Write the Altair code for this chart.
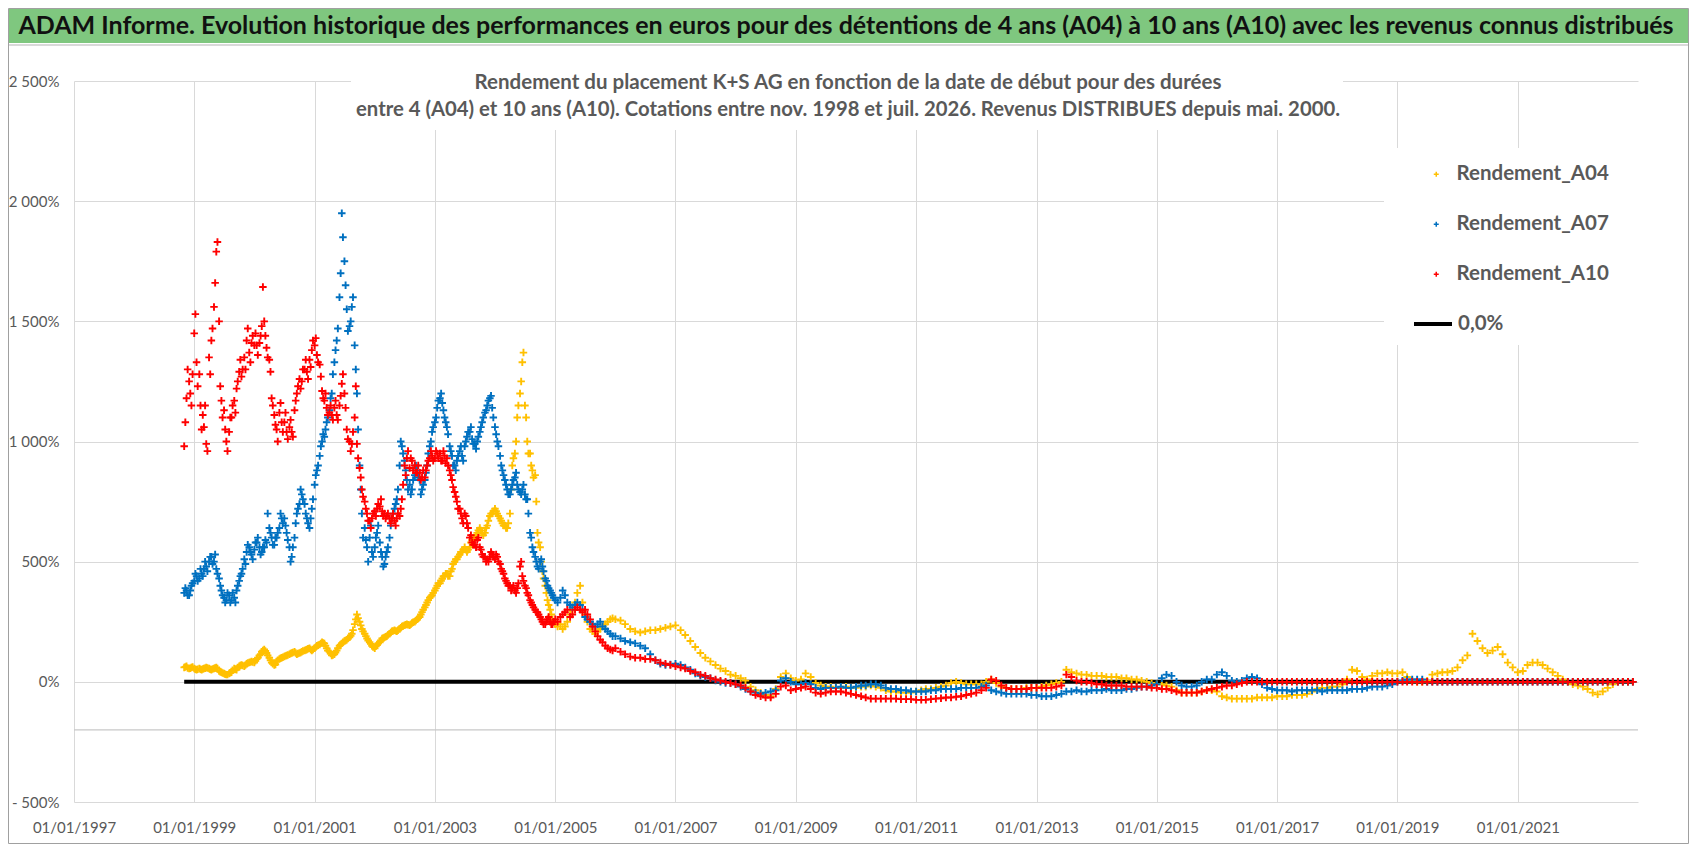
import altair as alt
import pandas as pd

# ---------------- data (values in %) ----------------
series_names = ["Rendement_A04", "Rendement_A07", "Rendement_A10"]
series_colors = ["#FFC000", "#0070C0", "#FF0000"]

# semi-monthly points (1st and 15th), Nov 1998 .. Dec 2005
semi_start, semi_end = "1998-11-01", "2005-12-31"
# monthly points, Jan 2006 .. Dec 2022
month_start, month_end = "2006-01-01", "2022-12-01"
# extra readings of the dense early cloud (8th and 22nd), Nov 1998 .. Dec 2004
mid_start, mid_end = "1998-11-01", "2004-12-01"

a04_semi = [
    60, 65, 55, 60,
    55, 50, 55, 50, 55, 60, 55, 50, 55, 60, 45, 40, 35, 30, 35, 40, 55, 50, 65, 70, 65, 75, 80, 85,
    80, 95, 110, 125, 135, 120, 100, 80, 70, 85, 95, 100, 105, 110, 115, 120, 125, 115, 120, 125, 130, 135, 140, 130,
    140, 150, 155, 165, 160, 140, 125, 110, 115, 130, 150, 160, 170, 175, 185, 200, 240, 280, 250, 220, 200, 180, 165, 150,
    140, 155, 165, 180, 185, 190, 200, 210, 215, 210, 220, 230, 235, 240, 235, 245, 250, 260, 270, 290, 310, 330, 350, 360,
    380, 400, 410, 430, 440, 450, 440, 470, 500, 510, 530, 540, 560, 540, 560, 590, 600, 620, 640, 620, 620, 650, 690, 700,
    720, 700, 680, 660, 650, 640, 700, 900, 950, 1100, 1200, 1330, 1150, 1000, 950, 880, 860, 620, 560, 460, 400, 340, 300, 260,
    240, 230, 240, 220, 230, 250, 280, 300, 330, 370, 400, 330, 280, 250, 220, 210, 200, 210, 220, 230, 240, 250, 260, 265,
]
a07_semi = [
    370, 380, 360, 400,
    420, 440, 430, 450, 470, 480, 500, 520, 500, 470, 430, 380, 350, 340, 360, 340, 350, 380, 420, 450, 510, 540, 560, 530,
    550, 580, 560, 540, 560, 580, 640, 600, 570, 600, 640, 680, 680, 620, 560, 520, 600, 700, 740, 780, 740, 680, 640, 720,
    820, 880, 940, 1000, 1020, 1080, 1130, 1200, 1330, 1420, 1600, 1950, 1750, 1550, 1480, 1560, 1400, 1200, 900, 700, 640, 560, 600, 540,
    560, 620, 580, 520, 490, 540, 600, 680, 720, 760, 900, 980, 920, 840, 820, 800, 860, 880, 840, 800, 840, 900, 980, 1040,
    1080, 1140, 1180, 1160, 1100, 1060, 980, 940, 900, 920, 960, 940, 980, 1020, 1040, 1010, 990, 1000, 1040, 1080, 1120, 1150, 1180, 1140,
    1060, 1000, 940, 880, 840, 800, 780, 820, 850, 820, 790, 800, 780, 760, 620, 560, 520, 480, 500, 480, 430, 400, 380, 360,
    340, 330, 350, 380, 360, 330, 320, 310, 320, 330, 320, 300, 270, 260, 250, 240, 230, 240, 250, 230, 220, 210, 200, 190,
]
a10_semi = [
    980, 1180, 1250, 1150,
    1450, 1330, 1280, 1050, 1060, 990, 1350, 1420, 1560, 1790, 1500, 1170, 1130, 1000, 1040, 1100, 1170, 1220, 1290, 1270, 1350, 1420, 1370, 1410,
    1400, 1400, 1410, 1480, 1500, 1390, 1340, 1180, 1110, 1050, 1120, 1080, 1080, 1040, 1060, 1040, 1130, 1200, 1260, 1250, 1300, 1290, 1340, 1380,
    1400, 1360, 1320, 1210, 1170, 1140, 1120, 1110, 1140, 1110, 1150, 1240, 1200, 1050, 1000, 990, 1100, 990, 890, 800, 750, 700, 670, 680,
    710, 720, 730, 710, 700, 690, 680, 680, 670, 680, 690, 760, 900, 930, 890, 920, 900, 870, 870, 850, 850, 900, 930, 940,
    930, 950, 950, 920, 940, 930, 880, 840, 790, 750, 720, 680, 700, 660, 600, 580, 570, 590, 560, 530, 520, 510, 520, 530,
    510, 520, 490, 460, 430, 410, 400, 390, 380, 390, 480, 440, 400, 370, 340, 320, 300, 290, 270, 250, 240, 260, 250, 240,
    260, 250, 270, 280, 290, 300, 270, 280, 300, 310, 300, 290, 300, 280, 260, 230, 210, 190, 175, 165, 150, 140, 135, 130,
]

a04_mid = [
    62, 58, 57, 62,
    52, 52, 52, 53, 57, 58, 52, 53, 58, 55, 42, 37, 32, 30, 38, 48, 52, 60, 68, 68, 70, 78, 82, 82,
    88, 100, 115, 130, 128, 110, 90, 75, 72, 90, 98, 102, 108, 112, 118, 122, 120, 118, 122, 128, 132, 138, 135, 135,
    145, 152, 160, 162, 150, 130, 118, 112, 122, 140, 155, 165, 172, 180, 192, 215, 260, 265, 235, 210, 190, 172, 158, 145,
    148, 160, 172, 182, 188, 195, 205, 212, 212, 215, 225, 232, 238, 238, 240, 248, 255, 265, 280, 300, 320, 340, 355, 370,
    390, 410, 420, 440, 450, 440, 460, 490, 510, 520, 540, 550, 550, 550, 580, 600, 610, 630, 630, 610, 640, 670, 700, 710,
    710, 690, 670, 650, 640, 660, 800, 930, 1000, 1150, 1250, 1370, 1100, 950, 900, 850, 750, 580, 500, 430, 370, 320, 280, 250,
]
a07_mid = [
    390, 360, 380, 410,
    450, 420, 470, 440, 500, 460, 520, 490, 530, 450, 400, 360, 330, 370, 330, 370, 330, 400, 440, 470, 490, 570, 540, 510,
    580, 600, 530, 560, 590, 700, 620, 570, 600, 620, 700, 660, 650, 590, 500, 560, 660, 720, 800, 760, 700, 660, 680, 760,
    860, 900, 980, 1030, 1050, 1100, 1180, 1280, 1380, 1470, 1700, 1850, 1650, 1460, 1500, 1600, 1300, 1050, 800, 600, 590, 500, 650, 520,
    600, 650, 540, 480, 520, 560, 650, 700, 740, 800, 1000, 950, 880, 800, 780, 840, 900, 850, 780, 820, 870, 950, 1000, 1060,
    1100, 1170, 1200, 1130, 1080, 1030, 960, 900, 880, 940, 980, 920, 1000, 1040, 1060, 990, 970, 1020, 1060, 1100, 1130, 1170, 1190, 1100,
    1030, 980, 900, 860, 820, 780, 800, 840, 870, 800, 780, 820, 760, 700, 600, 540, 500, 470, 510, 460, 420, 390, 370, 350,
]
a10_mid = [
    1080, 1300, 1200, 1280,
    1530, 1230, 1150, 1110, 1150, 960, 1280, 1470, 1660, 1830, 1230, 1100, 1050, 960, 1100, 1150, 1120, 1250, 1340, 1300, 1300, 1470, 1330, 1440,
    1450, 1360, 1440, 1643, 1440, 1350, 1290, 1150, 1070, 1000, 1160, 1040, 1120, 1010, 1090, 1020, 1170, 1230, 1220, 1300, 1340, 1260, 1310, 1420,
    1430, 1330, 1270, 1180, 1200, 1110, 1150, 1090, 1170, 1090, 1190, 1280, 1140, 1010, 960, 1040, 1230, 930, 850, 770, 720, 670, 640, 700,
    690, 740, 760, 690, 680, 700, 660, 700, 650, 700, 720, 820, 860, 960, 930, 880, 870, 900, 840, 880, 880, 920, 960, 920,
    960, 930, 920, 960, 910, 900, 860, 810, 770, 720, 700, 660, 690, 640, 610, 570, 560, 600, 550, 520, 500, 500, 540, 520,
    530, 500, 470, 450, 420, 400, 380, 400, 370, 410, 500, 420, 390, 360, 330, 310, 290, 280, 260, 240, 250, 270, 240, 250,
]

a04_month = [
    260, 255, 240, 220, 210, 205, 210, 215, 215, 220, 225, 230,
    235, 215, 195, 170, 145, 120, 100, 85, 70, 55, 45, 30,
    25, 15, 5, -20, -35, -45, -55, -60, -30, 20, 35, 15,
    5, 10, 35, 20, -5, -15, -20, -20, -25, -25, -20, -25,
    -25, -20, -20, -15, -20, -25, -35, -40, -40, -45, -45, -45,
    -40, -35, -30, -30, -25, -20, -15, -5, 0, -5, -10, -10,
    -10, -10, 0, 10, -5, -20, -25, -30, -30, -30, -25, -25,
    -25, -20, -15, -10, -5, 0, 50, 40, 35, 30, 30, 25,
    25, 25, 20, 20, 20, 15, 15, 10, 10, 5, 0, -5,
    -10, -10, -15, -20, -35, -45, -45, -45, -45, -40, -35, -35,
    -40, -60, -65, -70, -70, -70, -70, -70, -65, -65, -65, -65,
    -60, -60, -60, -55, -55, -55, -50, -40, -30, -25, -25, -20,
    -20, -10, 10, 50, 45, 20, 10, 25, 35, 35, 40, 35,
    35, 40, 20, 5, 0, 0, 5, 30, 35, 40, 40, 45,
    60, 90, 110, 200, 170, 140, 120, 130, 145, 115, 80, 60,
    40, 45, 70, 80, 80, 70, 55, 40, 25, 10, 0, -10,
    -15, -20, -30, -45, -52, -40, -25, -10, 0, 0, 0, 0,
]
a07_month = [
    190, 180, 170, 165, 160, 150, 140, 115, 90, 75, 70, 72,
    75, 70, 60, 50, 35, 25, 20, 15, 5, 0, -5, -5,
    -10, -20, -30, -40, -45, -50, -45, -40, -35, 5, 15, 0,
    -10, -10, -5, -10, -25, -30, -25, -25, -25, -20, -25, -25,
    -20, -15, -15, -10, -10, -15, -25, -30, -30, -35, -35, -40,
    -40, -40, -40, -35, -35, -30, -30, -30, -30, -25, -25, -25,
    -25, -20, -15, -35, -40, -45, -50, -50, -50, -50, -50, -55,
    -55, -60, -60, -60, -55, -50, -40, -40, -35, -40, -40, -35,
    -35, -35, -30, -35, -35, -35, -30, -30, -25, -20, -20, -15,
    -10, 15, 30, 25, 0, -15, -20, -20, -15, 0, 10, 10,
    30, 40, 25, 5, 0, 5, 15, 20, 15, -10, -25, -30,
    -35, -35, -35, -40, -35, -35, -35, -35, -35, -40, -35, -35,
    -35, -35, -35, -30, -30, -30, -25, -20, -20, -20, -15, -10,
    0, 5, 10, 10, 10, 10, 0, 0, 0, 0, 0, 0,
    0, 0, 0, 0, 0, 0, 0, 0, 0, 0, 0, 0,
    0, 0, 0, 0, 0, 0, 0, 0, 0, 0, 0, 0,
    0, 0, 0, 0, 0, 0, 0, 0, 0, 0, 0, 0,
]
a10_month = [
    140, 125, 115, 105, 100, 100, 95, 95, 90, 80, 75, 70,
    65, 60, 55, 45, 40, 30, 25, 15, 10, 5, 0, -5,
    -10, -15, -25, -40, -55, -60, -65, -65, -50, -20, -15, -35,
    -30, -25, -20, -30, -45, -50, -45, -40, -40, -40, -45, -50,
    -55, -60, -65, -70, -70, -70, -70, -70, -70, -72, -72, -72,
    -75, -75, -75, -72, -70, -68, -65, -65, -62, -60, -55, -50,
    -45, -35, -25, 10, 5, -15, -25, -30, -30, -30, -30, -25,
    -25, -25, -25, -25, -20, -15, 30, 20, 5, 0, 0, -5,
    -10, -10, -15, -15, -15, -15, -20, -20, -20, -20, -20, -25,
    -25, -30, -30, -35, -40, -45, -45, -45, -45, -40, -35, -30,
    -25, -20, -15, -15, -10, -5, 0, 0, 0, 0, 0, 0,
    0, 0, 0, 0, 0, 0, 0, 0, 0, 0, 0, 0,
    0, 0, 0, 0, 0, 0, 0, 0, 0, 0, 0, 0,
    0, 0, 0, 0, 0, 0, 0, 0, 0, 0, 0, 0,
    0, 0, 0, 0, 0, 0, 0, 0, 0, 0, 0, 0,
    0, 0, 0, 0, 0, 0, 0, 0, 0, 0, 0, 0,
    0, 0, 0, 0, 0, 0, 0, 0, 0, 0, 0, 0,
]

zero_line_label = "0,0%"
zero_line_dates = ["1998-11-01", "2022-12-01"]
zero_line_values = [0, 0]
axis_cross_value = [-200]

y_ticks = [-500, 0, 500, 1000, 1500, 2000, 2500]
x_tick_years = [1997, 1999, 2001, 2003, 2005, 2007, 2009, 2011, 2013, 2015, 2017, 2019, 2021]

title_text = ("ADAM Informe. Evolution historique des performances en euros pour des détentions "
              "de 4 ans (A04) à 10 ans (A10) avec les revenus connus distribués")
subtitle_lines = [
    "Rendement du placement K+S AG en fonction de la date de début pour des durées",
    "entre 4 (A04) et 10 ans (A10). Cotations entre nov. 1998 et juil. 2026. Revenus DISTRIBUES depuis mai. 2000.",
]

# ---------------- tables ----------------
semi_dates = [d.strftime("%Y-%m-%d") for d in pd.date_range(semi_start, semi_end, freq="SMS")]
month_dates = [d.strftime("%Y-%m-%d") for d in pd.date_range(month_start, month_end, freq="MS")]
mid_dates = []
for m in pd.date_range(mid_start, mid_end, freq="MS"):
    mid_dates.append((m + pd.Timedelta(days=7)).strftime("%Y-%m-%d"))
    mid_dates.append((m + pd.Timedelta(days=21)).strftime("%Y-%m-%d"))

main_dates = semi_dates + month_dates
series_main = [a04_semi + a04_month, a07_semi + a07_month, a10_semi + a10_month]
series_mid = [a04_mid, a07_mid, a10_mid]
rows = []
for name, vals, mids in zip(series_names, series_main, series_mid):
    assert len(vals) == len(main_dates), (name, len(vals), len(main_dates))
    assert len(mids) == len(mid_dates), (name, len(mids), len(mid_dates))
    for d, v in zip(main_dates, vals):
        rows.append({"date": d, "value": v, "series": name})
    for d, v in zip(mid_dates, mids):
        rows.append({"date": d, "value": v, "series": name})
df = pd.DataFrame(rows)
zero_df = pd.DataFrame({"date": zero_line_dates, "value": zero_line_values,
                        "ligne": [zero_line_label] * len(zero_line_dates)})
one = pd.DataFrame({"k": [0]})

PLUS = "M-1,0L1,0M0,-1L0,1"
GRAY = "#595959"
FONT = "Lato"

x_enc = alt.X(
    "date:T",
    scale=alt.Scale(type="utc", domain=[alt.DateTime(year=1997, month=1, date=1, utc=True),
                                        alt.DateTime(year=2023, month=1, date=1, utc=True)]),
    axis=alt.Axis(values=[alt.DateTime(year=y, month=1, date=1, utc=True) for y in x_tick_years],
                  format="%d/%m/%Y", title=None, ticks=False, domain=False, grid=True,
                  gridColor="#d9d9d9", labelColor=GRAY, labelFont=FONT, labelFontSize=15,
                  labelPadding=18, labelFlush=False, labelOverlap=False),
)
y_enc = alt.Y(
    "value:Q",
    scale=alt.Scale(domain=[-500, 2500], nice=False, zero=False),
    axis=alt.Axis(values=y_ticks, title=None, ticks=False, domain=False, grid=True,
                  gridColor="#d9d9d9", labelColor=GRAY, labelFont=FONT, labelFontSize=15,
                  labelPadding=15,
                  labelExpr="(datum.value < 0 ? '- ' : '') + replace(format(abs(datum.value), ',d'), ',', ' ') + '%'"),
)

frame = alt.Chart(one).mark_rect(fillOpacity=0, stroke="#a0a0a0", strokeWidth=1).encode(
    x=alt.value(-65.5), x2=alt.value(1614.5), y=alt.value(-72.5), y2=alt.value(762.5))
banner = alt.Chart(one).mark_rect(fill="#7fc77f").encode(
    x=alt.value(-65), x2=alt.value(1614), y=alt.value(-72), y2=alt.value(-38))
banner_line = alt.Chart(one).mark_rect(fill="#d9d9d9").encode(
    x=alt.value(-65), x2=alt.value(1614), y=alt.value(-37), y2=alt.value(-35))

cross_rule = alt.Chart(pd.DataFrame({"v": axis_cross_value})).mark_rule(
    color="#c8c8c8", strokeWidth=1.2).encode(y="v:Q")

zero_line = alt.Chart(zero_df).mark_line(strokeWidth=4).encode(
    x=x_enc, y=y_enc,
    stroke=alt.Stroke("ligne:N", scale=alt.Scale(domain=[zero_line_label], range=["#000000"]),
                      legend=alt.Legend(title=None, orient="none", legendX=1338, legendY=222,
                                        symbolType="stroke", symbolSize=1444, symbolStrokeWidth=4,
                                        labelFont=FONT, labelFontSize=20.5, labelFontWeight="bold",
                                        labelColor=GRAY, labelOffset=4, padding=0, labelLimit=400)),
)

points = alt.Chart(df).mark_point(shape=PLUS, filled=False, size=56, strokeWidth=1.9, opacity=1).encode(
    x=x_enc, y=y_enc,
    color=alt.Color("series:N", scale=alt.Scale(domain=series_names, range=series_colors),
                    legend=alt.Legend(title=None, orient="none", legendX=1352, legendY=83,
                                      symbolType=PLUS, symbolSize=25, symbolStrokeWidth=1.5,
                                      labelFont=FONT, labelFontSize=20.5, labelFontWeight="bold",
                                      labelColor=GRAY, labelOffset=10, rowPadding=29, padding=0,
                                      labelLimit=400)),
)

sub_box = alt.Chart(one).mark_rect(fill="white").encode(
    x=alt.value(277), x2=alt.value(1269), y=alt.value(-15), y2=alt.value(49))
leg_box = alt.Chart(one).mark_rect(fill="white").encode(
    x=alt.value(1310), x2=alt.value(1566), y=alt.value(67), y2=alt.value(264))

title_mark = alt.Chart(one).mark_text(font=FONT, fontSize=25, fontWeight="bold", color="#111111",
                                      align="center", baseline="middle").encode(
    x=alt.value(772), y=alt.value(-55), text=alt.value(title_text))
sub1 = alt.Chart(one).mark_text(font=FONT, fontSize=20.5, fontWeight="bold", color=GRAY,
                                align="center", baseline="middle").encode(
    x=alt.value(774), y=alt.value(2), text=alt.value(subtitle_lines[0]))
sub2 = alt.Chart(one).mark_text(font=FONT, fontSize=20.3, fontWeight="bold", color=GRAY,
                                align="center", baseline="middle").encode(
    x=alt.value(774), y=alt.value(29), text=alt.value(subtitle_lines[1]))

chart = alt.layer(
    frame, banner, banner_line, cross_rule, zero_line, points, sub_box, leg_box, title_mark, sub1, sub2
).properties(
    width=1564, height=721,
    padding={"left": 66, "top": 73, "right": 52, "bottom": 46},
    autosize=alt.AutoSizeParams(type="none"),
    background="white",
).configure_view(strokeWidth=0)

chart.save("out.html", embed_options={"renderer": "svg", "actions": False})
